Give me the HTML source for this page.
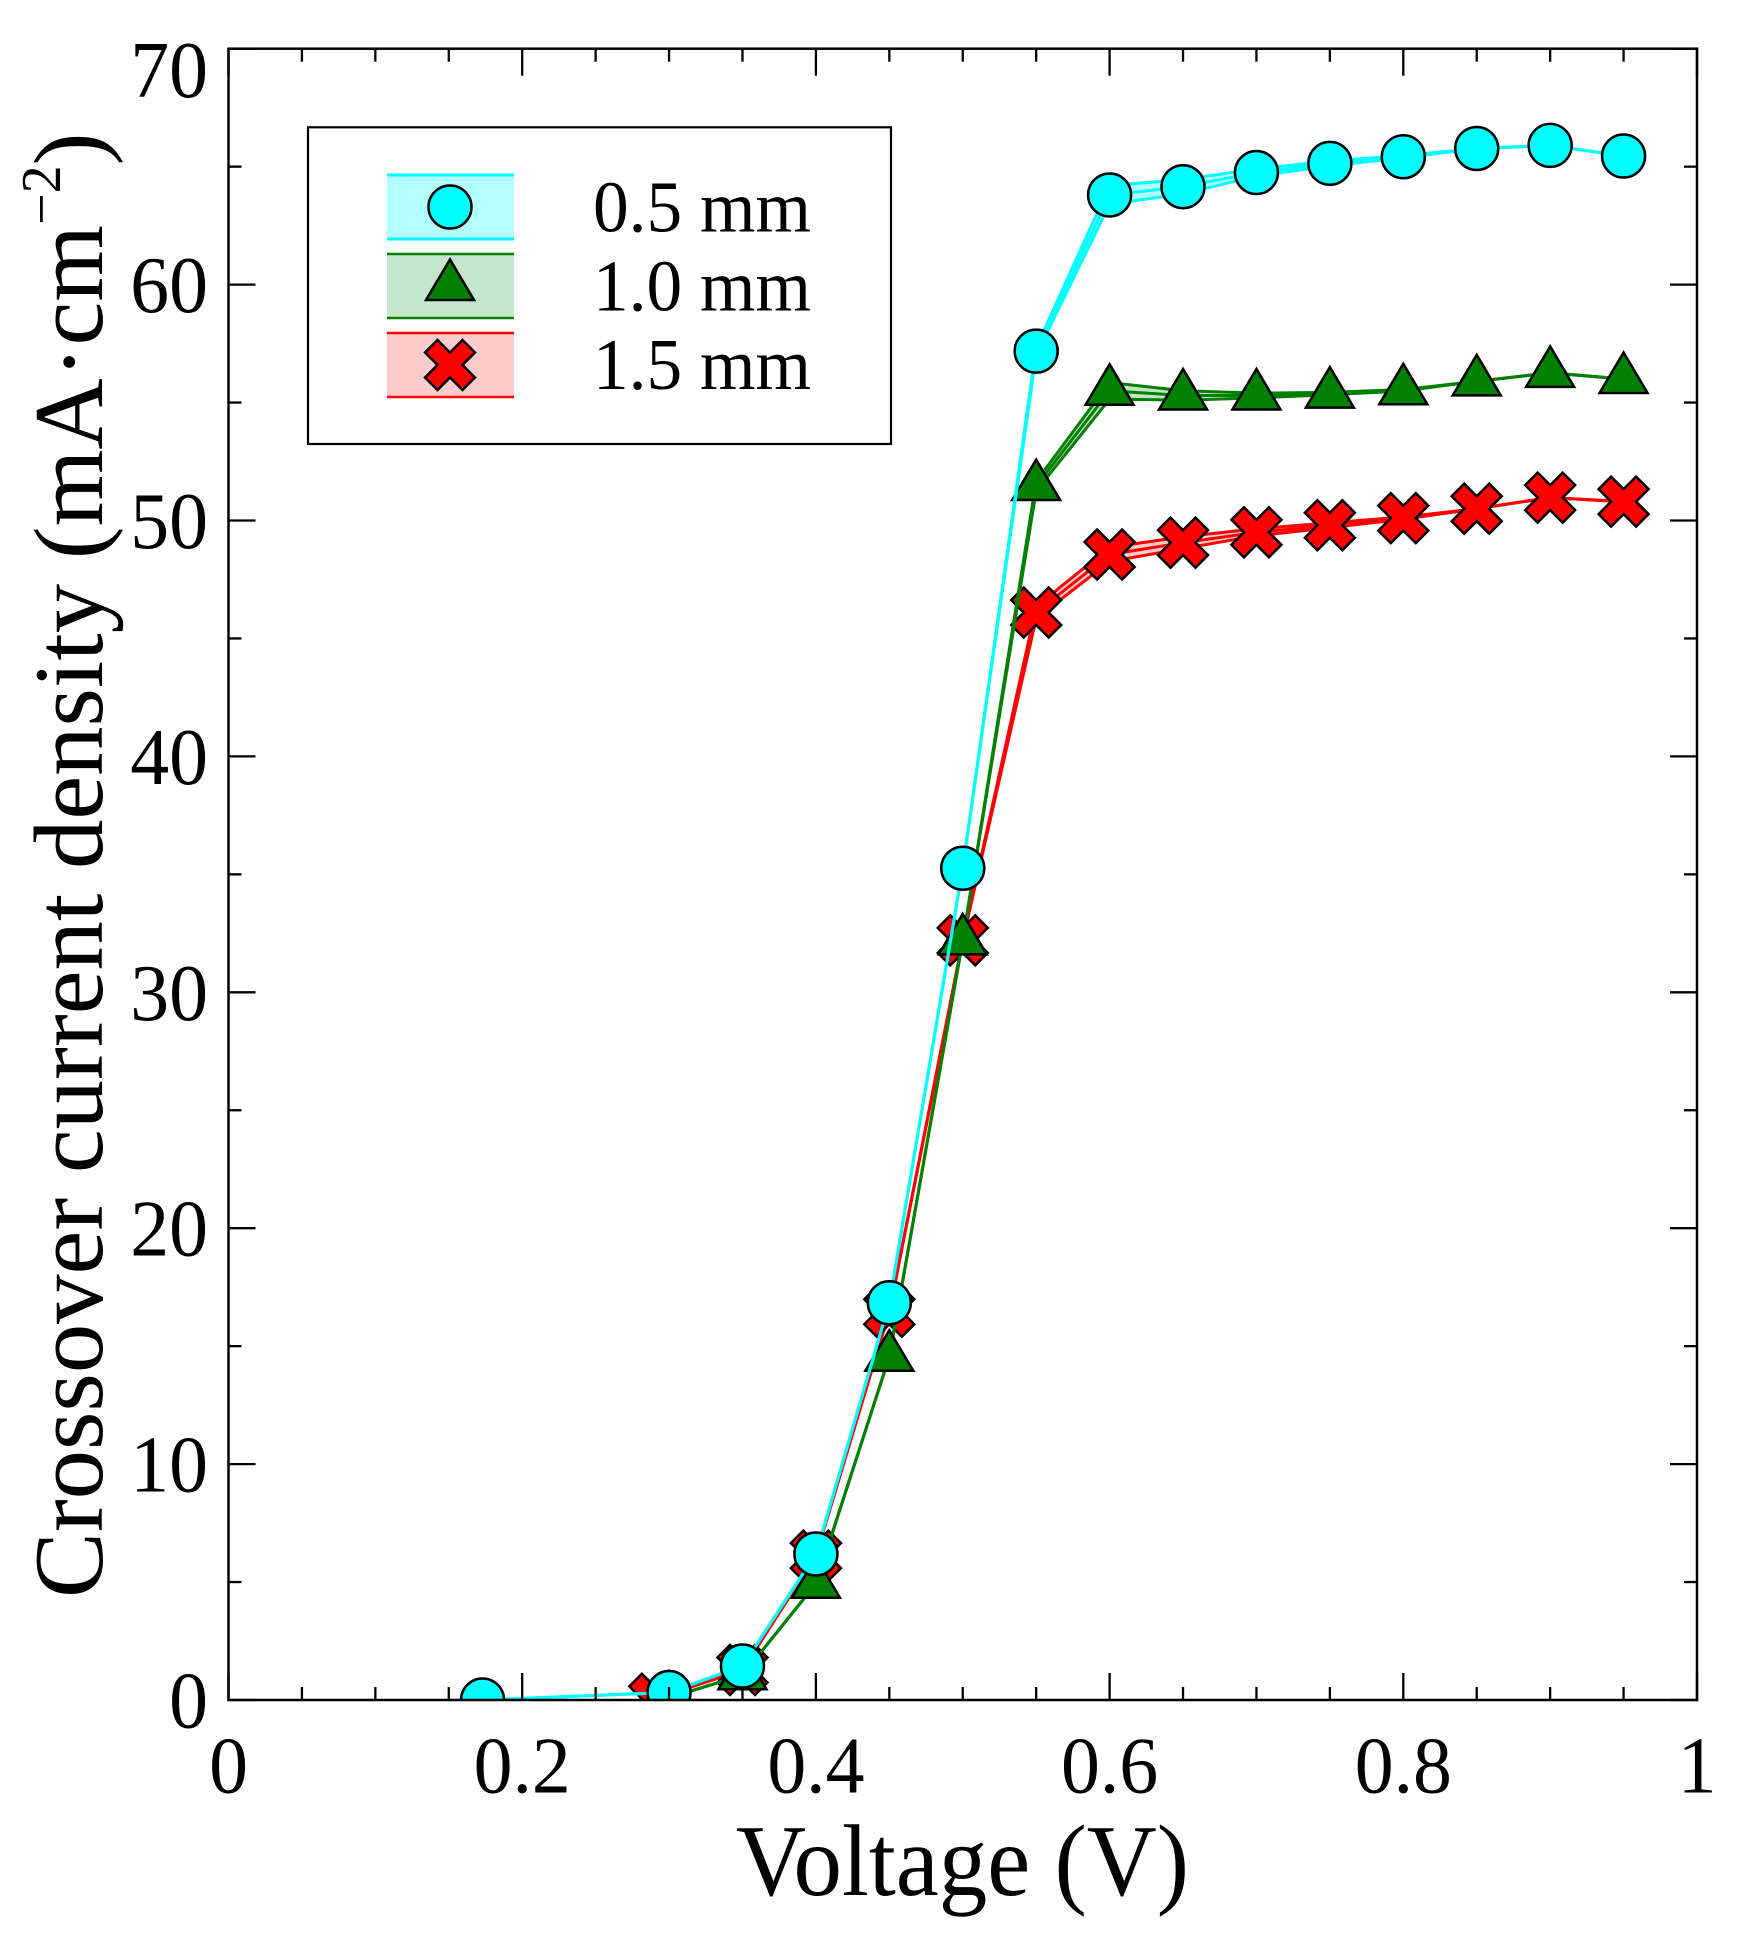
<!DOCTYPE html>
<html lang="en">
<head>
<meta charset="utf-8">
<title>Crossover current density vs voltage</title>
<style>
html,body{margin:0;padding:0;background:#fff;width:1743px;height:1939px;overflow:hidden}
svg{display:block}
text{font-family:"Liberation Serif",serif;fill:#000}
</style>
</head>
<body>
<svg id="chart" xmlns="http://www.w3.org/2000/svg" width="1743" height="1939" viewBox="0 0 1743 1939">
  <defs><clipPath id="plot-clip"><rect x="228.5" y="48.7" width="1468.5" height="1651.3"/></clipPath></defs>
  <rect x="0" y="0" width="1743" height="1939" fill="#fff"/>
  <g id="series-layer" clip-path="url(#plot-clip)"></g>
  <g id="axes-layer"></g>
  <rect x="228.5" y="48.7" width="1468.5" height="1651.3" fill="none" stroke="#000" stroke-width="2.5"/>

  <text x="736" y="1895" font-size="102" textLength="453" lengthAdjust="spacingAndGlyphs">Voltage (V)</text>
  <text transform="translate(102,1598) rotate(-90)" font-size="98.7">Crossover current density (mA·cm<tspan font-size="56" dy="-42">−2</tspan><tspan dy="42">)</tspan></text>

  <g>
    <rect x="308" y="127.3" width="583" height="316.7" fill="#fff" stroke="#000" stroke-width="2.2"/>
    <g>
      <rect x="387" y="175" width="127" height="64" fill="#b3ffff"/>
      <line x1="387" x2="514" y1="175" y2="175" stroke="#00ffff" stroke-width="3"/>
      <line x1="387" x2="514" y1="239" y2="239" stroke="#00ffff" stroke-width="3"/>
      <circle cx="450" cy="207" r="21.5" fill="#00ffff" stroke="#000" stroke-width="2.5"/>
      <text x="593" y="231.7" font-size="73" textLength="218" lengthAdjust="spacingAndGlyphs">0.5 mm</text>
    </g>
    <g>
      <rect x="387" y="254" width="127" height="64" fill="#c4e6cc"/>
      <line x1="387" x2="514" y1="254" y2="254" stroke="#008000" stroke-width="2.5"/>
      <line x1="387" x2="514" y1="318" y2="318" stroke="#008000" stroke-width="2.5"/>
      <polygon points="450,259.5 426,300 474,300" fill="#008000" stroke="#000" stroke-width="2.5" stroke-linejoin="miter"/>
      <text x="593" y="310.7" font-size="73" textLength="218" lengthAdjust="spacingAndGlyphs">1.0 mm</text>
    </g>
    <g>
      <rect x="387" y="333" width="127" height="64" fill="#ffcccc"/>
      <line x1="387" x2="514" y1="333" y2="333" stroke="#ff0000" stroke-width="2.5"/>
      <line x1="387" x2="514" y1="397" y2="397" stroke="#ff0000" stroke-width="2.5"/>
      <polygon points="437.5,340 450,352.5 462.5,340 475,352.5 462.5,365 475,377.5 462.5,390 450,377.5 437.5,390 425,377.5 437.5,365 425,352.5" fill="#ff0000" stroke="#000" stroke-width="2.5"/>
      <text x="593" y="389" font-size="73" textLength="218" lengthAdjust="spacingAndGlyphs">1.5 mm</text>
    </g>
  </g>
</svg>
<script>
// Chart data
const voltage05 = [0.173, 0.30, 0.35, 0.40, 0.45, 0.50, 0.55, 0.60, 0.65, 0.70, 0.75, 0.80, 0.85, 0.90, 0.95];
const density05 = [0.0, 0.32, 1.44, 6.19, 16.84, 35.26, 57.18, 63.8, 64.15, 64.75, 65.14, 65.42, 65.77, 65.9, 65.45];
const spread05 = [0, 0, 0, 0, 0, 0, 0.15, 0.4, 0.3, 0.15, 0.1, 0.05, 0, 0, 0];

const voltage10 = [0.30, 0.35, 0.40, 0.45, 0.50, 0.55, 0.60, 0.65, 0.70, 0.75, 0.80, 0.85, 0.90, 0.95];
const density10 = [0.1, 1.05, 4.93, 14.55, 32.2, 51.46, 55.5, 55.3, 55.3, 55.38, 55.52, 55.9, 56.26, 56.0];
const spread10 = [0, 0, 0, 0, 0, 0.2, 0.35, 0.2, 0.1, 0.05, 0.03, 0, 0, 0];

const voltage15 = [0.29, 0.35, 0.40, 0.45, 0.50, 0.55, 0.60, 0.65, 0.70, 0.75, 0.80, 0.85, 0.90, 0.95];
const density15 = [0.05, 1.27, 6.12, 16.46, 32.2, 46.1, 48.56, 49.06, 49.5, 49.8, 50.1, 50.5, 50.97, 50.8];
const spread15 = [0, 0, 0, 0, 0, 0.25, 0.3, 0.25, 0.15, 0.1, 0.05, 0, 0, 0];

const xMajorTicks = [0, 0.2, 0.4, 0.6, 0.8, 1];
const xMinorTicks = [0.05, 0.1, 0.15, 0.25, 0.3, 0.35, 0.45, 0.5, 0.55, 0.65, 0.7, 0.75, 0.85, 0.9, 0.95];
const xTickLabels = ['0', '0.2', '0.4', '0.6', '0.8', '1'];
const yMajorTicks = [0, 10, 20, 30, 40, 50, 60, 70];
const yMinorTicks = [5, 15, 25, 35, 45, 55, 65];
const yTickLabels = ['0', '10', '20', '30', '40', '50', '60', '70'];

// Axis functions
const PLOT_LEFT = 228.5, PLOT_RIGHT = 1697, PLOT_TOP = 48.7, PLOT_BOTTOM = 1700;
function xScale(v) { return PLOT_LEFT + (PLOT_RIGHT - PLOT_LEFT) * v; }
function yScale(d) { return PLOT_BOTTOM - (PLOT_BOTTOM - PLOT_TOP) * d / 70; }

const NS = 'http://www.w3.org/2000/svg';
const seriesLayer = document.getElementById('series-layer');
const axesLayer = document.getElementById('axes-layer');

function make(tag, parent) {
  const el = document.createElementNS(NS, tag);
  parent.appendChild(el);
  return el;
}

function linePoints(xs, ys, offsets, sign) {
  return xs.map(function (v, i) {
    return xScale(v).toFixed(2) + ',' + yScale(ys[i] + sign * offsets[i]).toFixed(2);
  });
}

function drawMarker(kind, cx, cy, color, parent) {
  let el;
  if (kind === 'circle') {
    el = make('circle', parent);
    el.setAttribute('cx', cx);
    el.setAttribute('cy', cy);
    el.setAttribute('r', 21.5);
  } else if (kind === 'triangle') {
    el = make('polygon', parent);
    el.setAttribute('points', [[0, -26.5], [-24, 14], [24, 14]].map(function (p) {
      return (cx + p[0]) + ',' + (cy + p[1]);
    }).join(' '));
  } else {
    el = make('polygon', parent);
    const shape = [[-12.5, -25], [0, -12.5], [12.5, -25], [25, -12.5], [12.5, 0], [25, 12.5], [12.5, 25], [0, 12.5], [-12.5, 25], [-25, 12.5], [-12.5, 0], [-25, -12.5]];
    el.setAttribute('points', shape.map(function (p) {
      return (cx + p[0]) + ',' + (cy + p[1]);
    }).join(' '));
  }
  el.setAttribute('fill', color);
  el.setAttribute('stroke', '#000');
  el.setAttribute('stroke-width', 2.5);
  
  
}

function drawSeries(name, xs, ys, spread, color, fillOpacity, kind) {
  const group = make('g', seriesLayer);
  
  

  const upper = linePoints(xs, ys, spread, 1);
  const lower = linePoints(xs, ys, spread, -1);
  const centre = linePoints(xs, ys, spread, 0);

  const band = make('polygon', group);
  band.setAttribute('points', upper.concat(lower.slice().reverse()).join(' '));
  band.setAttribute('fill', color);
  band.setAttribute('fill-opacity', fillOpacity);
  
  

  [upper, centre, lower].forEach(function (pts) {
    const line = make('polyline', group);
    line.setAttribute('points', pts.join(' '));
    line.setAttribute('fill', 'none');
    line.setAttribute('stroke', color);
    line.setAttribute('stroke-width', 3);
    line.setAttribute('stroke-linejoin', 'round');
    
    
  });

  xs.forEach(function (v, i) {
    drawMarker(kind, xScale(v), yScale(ys[i]), color, group);
  });
}

drawSeries('1-5-mm', voltage15, density15, spread15, '#ff0000', 0.2, 'cross');
drawSeries('1-0-mm', voltage10, density10, spread10, '#008000', 0.23, 'triangle');
drawSeries('0-5-mm', voltage05, density05, spread05, '#00ffff', 0.3, 'circle');

function drawTick(x1, y1, x2, y2) {
  const t = make('line', axesLayer);
  t.setAttribute('x1', x1);
  t.setAttribute('y1', y1);
  t.setAttribute('x2', x2);
  t.setAttribute('y2', y2);
  t.setAttribute('stroke', '#000');
  t.setAttribute('stroke-width', 2.3);
  
  
}

const MAJOR_LEN = 27, MINOR_LEN = 13;
function drawXTicks(values, len) {
  values.forEach(function (v) {
    drawTick(xScale(v), PLOT_BOTTOM, xScale(v), PLOT_BOTTOM - len);
    drawTick(xScale(v), PLOT_TOP, xScale(v), PLOT_TOP + len);
  });
}
function drawYTicks(values, len) {
  values.forEach(function (d) {
    drawTick(PLOT_LEFT, yScale(d), PLOT_LEFT + len, yScale(d));
    drawTick(PLOT_RIGHT, yScale(d), PLOT_RIGHT - len, yScale(d));
  });
}
drawXTicks(xMajorTicks, MAJOR_LEN);
drawXTicks(xMinorTicks, MINOR_LEN);
drawYTicks(yMajorTicks, MAJOR_LEN);
drawYTicks(yMinorTicks, MINOR_LEN);

xMajorTicks.forEach(function (v, i) {
  const label = make('text', axesLayer);
  label.setAttribute('transform', 'translate(' + xScale(v) + ',1792.7) scale(0.96,1)');
  label.setAttribute('font-size', 81);
  label.setAttribute('text-anchor', 'middle');
  
  
  label.textContent = xTickLabels[i];
});

yMajorTicks.forEach(function (d, i) {
  const isTop = i === yMajorTicks.length - 1;
  const label = make('text', axesLayer);
  label.setAttribute('transform', 'translate(208,' + (yScale(d) + 27.5 + (isTop ? 21 : 0)) + ') scale(0.96,1)');
  label.setAttribute('font-size', 81);
  label.setAttribute('text-anchor', 'end');
  
  
  label.textContent = yTickLabels[i];
});
</script>
</body>
</html>
